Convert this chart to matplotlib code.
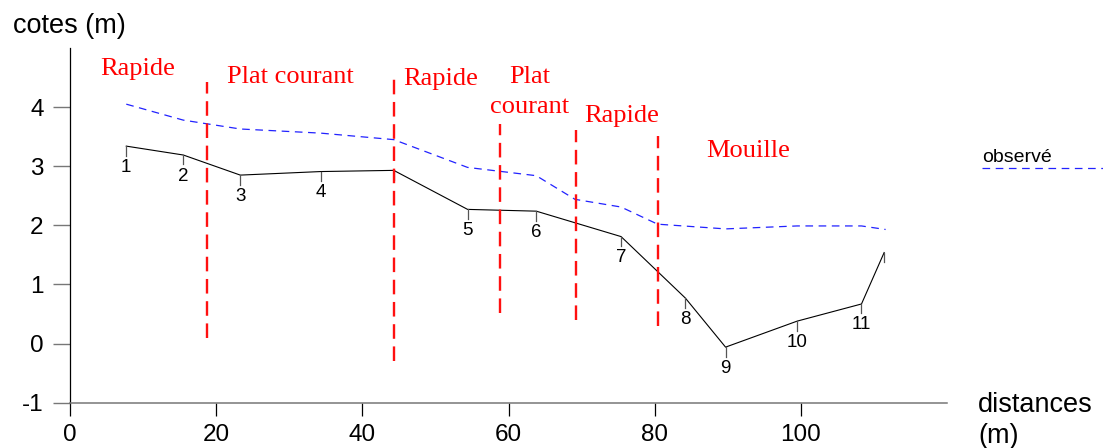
import numpy as np
import matplotlib
matplotlib.use("Agg")
import matplotlib.pyplot as plt
from matplotlib.lines import Line2D

plt.rcParams["font.family"] = ["Liberation Sans", "DejaVu Sans"]
plt.rcParams["lines.scale_dashes"] = False

# profil en long (fond)
dist = [7.7, 15.5, 23.3, 34.3, 44.3, 54.4, 63.8, 75.4, 84.2, 89.7, 99.5, 108.3, 111.4]
cotes = [3.34, 3.19, 2.85, 2.91, 2.93, 2.27, 2.24, 1.81, 0.77, -0.06, 0.38, 0.67, 1.54]
numeros = ["1", "2", "3", "4", "", "5", "6", "7", "8", "9", "10", "11", ""]

# ligne d'eau observee
dist_obs = [7.7, 15.5, 23.3, 34.3, 44.3, 54.4, 63.8, 69.1, 75.4, 80.4, 89.7, 99.5, 108.3, 111.6]
cotes_obs = [4.05, 3.78, 3.63, 3.56, 3.45, 2.98, 2.84, 2.44, 2.31, 2.02, 1.94, 1.99, 1.99, 1.93]

# limites des faciès
lim_x = [18.7, 44.3, 58.8, 69.2, 80.4]
lim_haut = [4.42, 4.57, 3.72, 3.62, 3.51]
lim_bas = [0.09, -0.30, 0.52, 0.40, 0.30]

# noms des faciès (x, y, texte, alignement)
facies = [
    (4.1, 4.55, "Rapide", "left"),
    (21.5, 4.40, "Plat courant", "left"),
    (45.6, 4.38, "Rapide", "left"),
    (62.9, 4.40, "Plat", "center"),
    (62.9, 3.90, "courant", "center"),
    (70.3, 3.75, "Rapide", "left"),
    (87.0, 3.16, "Mouille", "left"),
]

fig = plt.figure(figsize=(11.03, 4.48), dpi=100)
ax = fig.add_axes([70 / 1103, 1 - 402.7 / 448, 877 / 1103, (402.7 - 48) / 448])

ax.plot(dist_obs, cotes_obs, color="#2222ff", lw=0.9, dashes=(5.5, 4))
ax.plot(dist, cotes, color="black", lw=0.8)

for x, y, t in zip(dist, cotes, numeros):
    ax.plot([x, x], [y, y - 0.16], color="#555555", lw=0.9)
    if t:
        ax.annotate(t, (x, y), xytext=(0, -9), textcoords="offset points",
                    ha="center", va="top", fontsize=13.5)

for x, y0, y1 in zip(lim_x, lim_bas, lim_haut):
    ax.plot([x, x], [y0, y1], color="#ff1010", lw=1.7, dashes=(10.5, 5.5))

for x, y, t, h in facies:
    ax.text(x, y, t, color="#ff0000", fontsize=19, ha=h, va="baseline",
            family=["Liberation Serif", "DejaVu Serif"])

ax.set_xlim(0, 120)
ax.set_ylim(-1, 5)
ax.set_xticks([0, 20, 40, 60, 80, 100])
ax.set_yticks([-1, 0, 1, 2, 3, 4])
ax.set_yticklabels(["-1", "0", "1", "2", "3", "4"])
ax.spines["top"].set_visible(False)
ax.spines["right"].set_visible(False)
ax.spines["left"].set_color("black")
ax.spines["left"].set_linewidth(0.9)
ax.spines["bottom"].set_color("#777777")
ax.spines["bottom"].set_linewidth(1.1)
ax.tick_params(axis="x", direction="out", length=9.6, width=0.9, color="black",
               labelsize=17.5, pad=5.5)
ax.tick_params(axis="y", direction="out", length=12, width=1.0, color="#777777",
               labelsize=17.5, pad=7)

fig.text(12.7 / 1103, 1 - 33.3 / 448, "cotes (m)", fontsize=19.5, va="baseline")
fig.text(978 / 1103, 1 - 411.7 / 448, "distances", fontsize=19.5, va="baseline")
fig.text(978 / 1103, 1 - 443 / 448, "(m)", fontsize=19.5, va="baseline")

# legende
fig.text(981.7 / 1103, 1 - 162.3 / 448, "observé", fontsize=14, va="baseline")
fig.add_artist(Line2D([981.7 / 1103, 1.0], [1 - 168.3 / 448] * 2,
                      transform=fig.transFigure, color="#2222ff", lw=0.9, dashes=(5.5, 4)))

fig.savefig("out.png", dpi=100)
